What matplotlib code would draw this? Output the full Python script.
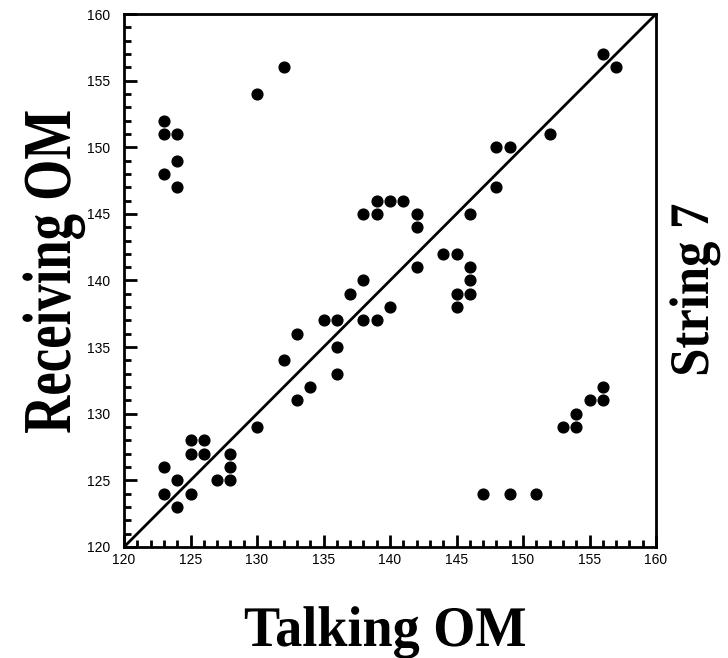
import matplotlib
matplotlib.use("Agg")
import matplotlib.pyplot as plt
from matplotlib.ticker import MultipleLocator
from matplotlib.patheffects import AbstractPathEffect
from matplotlib.transforms import Affine2D

talking = [123, 123, 124, 124, 123, 124, 130, 132, 156, 157, 152, 148, 149, 148, 146,
           138, 139, 139, 140, 141, 142, 142, 142,
           144, 145, 146, 146, 146, 145, 145,
           140, 138, 137, 139, 138,
           136, 135, 136, 136, 133, 132, 134, 133, 130,
           128, 128, 128, 127, 126, 126, 125, 125, 125, 124, 124, 123, 123,
           147, 149, 151,
           153, 154, 154, 155, 156, 156]
receiving = [152, 151, 151, 149, 148, 147, 154, 156, 157, 156, 151, 150, 150, 147, 145,
             145, 145, 146, 146, 146, 145, 144, 141,
             142, 142, 141, 140, 139, 139, 138,
             138, 140, 139, 137, 137,
             137, 137, 135, 133, 136, 134, 132, 131, 129,
             127, 126, 125, 125, 128, 127, 128, 127, 124, 125, 123, 126, 124,
             124, 124, 124,
             129, 129, 130, 131, 131, 132]
axis_range = [120, 160]


class Stretch(AbstractPathEffect):
    """Stretch glyphs vertically (in the text's own frame) about the baseline."""
    def __init__(self, sy):
        super().__init__()
        self.sy = sy

    def draw_path(self, renderer, gc, tpath, affine, rgbFace=None):
        renderer.draw_path(gc, tpath, Affine2D().scale(1, self.sy) + affine, rgbFace)


fig = plt.figure(figsize=(7.28, 6.58), dpi=100)
ax = fig.add_axes([124/728, 1-547/658, 532/728, 533/658])
ax.plot(axis_range, axis_range, color="black", lw=2)
ax.scatter(talking, receiving, s=60, color="black", zorder=3, clip_on=False)
ax.set_xlim(axis_range)
ax.set_ylim(axis_range)
ax.xaxis.set_major_locator(MultipleLocator(5))
ax.yaxis.set_major_locator(MultipleLocator(5))
ax.xaxis.set_minor_locator(MultipleLocator(1))
ax.yaxis.set_minor_locator(MultipleLocator(1))
ax.tick_params(which="both", direction="in", top=False, right=False, width=2, labelsize=10)
ax.tick_params(which="major", length=9)
ax.tick_params(axis="x", which="major", pad=4)
ax.tick_params(axis="y", which="major", pad=10)
ax.tick_params(which="minor", length=5)
for lab in ax.get_xticklabels() + ax.get_yticklabels():
    lab.set_family(["Liberation Sans", "DejaVu Sans"])
for sp in ax.spines.values():
    sp.set_linewidth(2)

serif = ["Liberation Serif", "DejaVu Serif"]
fig.text(385/728, 1 - 646/658, "Talking OM", ha="center", va="baseline",
         rotation_mode="anchor", fontsize=39, fontweight="bold", family=serif,
         path_effects=[Stretch(1.06)])
fig.text(70/728, 1 - 272/658, "Receiving OM", ha="center", va="baseline", rotation=90,
         rotation_mode="anchor", fontsize=38, fontweight="bold", family=serif,
         path_effects=[Stretch(1.3)])
fig.text(708/728, 1 - 290/658, "String 7", ha="center", va="baseline", rotation=90,
         rotation_mode="anchor", fontsize=36.5, fontweight="bold", family=serif,
         path_effects=[Stretch(1.1)])

fig.savefig("out.png", dpi=100)
